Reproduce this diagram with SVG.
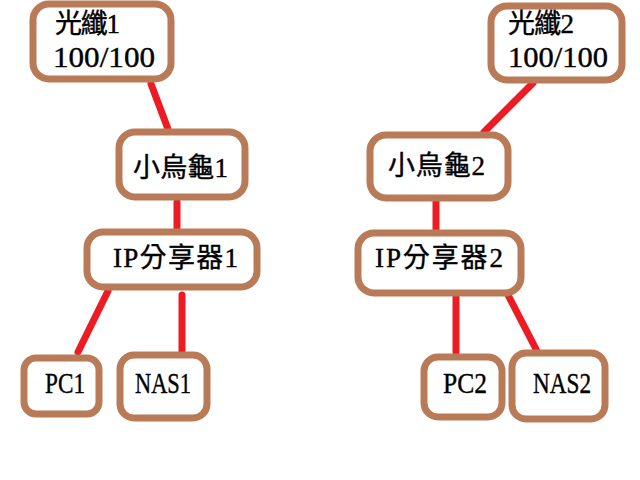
<svg xmlns="http://www.w3.org/2000/svg" width="640" height="480" viewBox="0 0 640 480">
<style>
.box{fill:#ffffff;stroke:#b97a57;stroke-width:7}
.link{stroke:#ed1c24;stroke-width:7;stroke-linecap:round;fill:none}
.t{font-family:"Liberation Serif","Noto Sans CJK TC",serif;font-size:27px;fill:#000000;stroke:#000000;stroke-width:0.4}
.n{font-size:30px}
</style>
<rect width="640" height="480" fill="#ffffff"/>
<g id="connectors">
<line class="link" x1="151" y1="84" x2="168" y2="129"/>
<line class="link" x1="177" y1="202" x2="177" y2="228"/>
<line class="link" x1="108" y1="291" x2="78" y2="352"/>
<line class="link" x1="182" y1="295" x2="182" y2="351"/>
<line class="link" x1="533" y1="83" x2="484" y2="132"/>
<line class="link" x1="436" y1="197" x2="436" y2="230"/>
<line class="link" x1="456" y1="295" x2="456" y2="352"/>
<line class="link" x1="507" y1="293" x2="537" y2="351"/>
</g>
<g id="fiber1">
<rect class="box" x="33" y="4" width="138" height="75" rx="16"/>
<text class="t" x="55" y="33" textLength="65" lengthAdjust="spacing">光纖1</text>
<text class="t n" x="53" y="67" textLength="102" lengthAdjust="spacingAndGlyphs">100/100</text>
</g>
<g id="turtle1">
<rect class="box" x="119" y="132" width="126" height="65" rx="16"/>
<text class="t" x="133" y="177" textLength="95" lengthAdjust="spacing">小烏龜1</text>
</g>
<g id="router1">
<rect class="box" x="87" y="232" width="170" height="55" rx="16"/>
<text class="t" x="113" y="267" textLength="125" lengthAdjust="spacing">IP分享器1</text>
</g>
<g id="pc1">
<rect class="box" x="24" y="358" width="75" height="56" rx="12"/>
<text class="t n" x="45" y="393" textLength="40" lengthAdjust="spacingAndGlyphs">PC1</text>
</g>
<g id="nas1">
<rect class="box" x="120" y="355" width="87" height="63" rx="14"/>
<text class="t n" x="135" y="393" textLength="56" lengthAdjust="spacingAndGlyphs">NAS1</text>
</g>
<g id="fiber2">
<rect class="box" x="491" y="6" width="131" height="74" rx="16"/>
<text class="t" x="508" y="33" textLength="66" lengthAdjust="spacing">光纖2</text>
<text class="t n" x="508" y="67" textLength="100" lengthAdjust="spacingAndGlyphs">100/100</text>
</g>
<g id="turtle2">
<rect class="box" x="370" y="135" width="138" height="63" rx="16"/>
<text class="t" x="388" y="175" textLength="97" lengthAdjust="spacing">小烏龜2</text>
</g>
<g id="router2">
<rect class="box" x="358" y="233" width="163" height="60" rx="16"/>
<text class="t" x="375" y="267" textLength="128" lengthAdjust="spacing">IP分享器2</text>
</g>
<g id="pc2">
<rect class="box" x="424" y="357" width="78" height="60" rx="14"/>
<text class="t n" x="443" y="393" textLength="44" lengthAdjust="spacingAndGlyphs">PC2</text>
</g>
<g id="nas2">
<rect class="box" x="512" y="353" width="93" height="66" rx="14"/>
<text class="t n" x="533" y="393" textLength="58" lengthAdjust="spacingAndGlyphs">NAS2</text>
</g>
</svg>
